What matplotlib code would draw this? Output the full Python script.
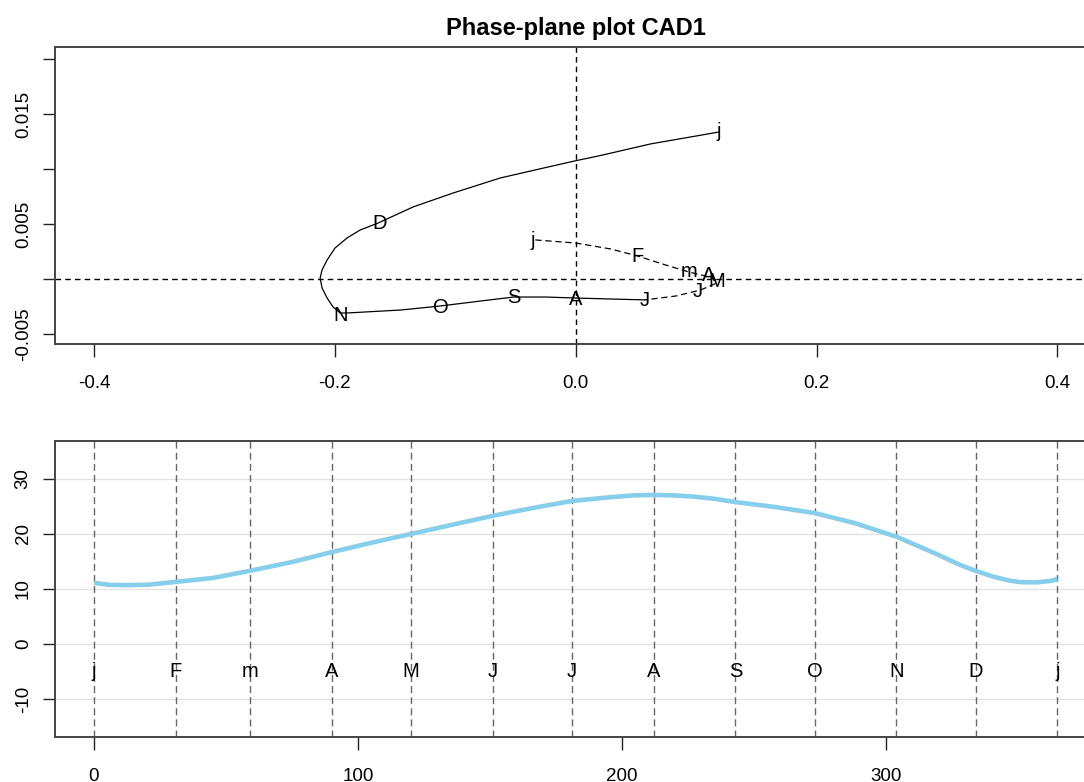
import matplotlib
matplotlib.use("Agg")
import matplotlib.pyplot as plt

plt.rcParams["font.family"] = ["Liberation Sans", "DejaVu Sans"]

# month markers
month_labels = ["j", "F", "m", "A", "M", "J", "J", "A", "S", "O", "N", "D", "j"]
month_days = [0, 31, 59, 90, 120, 151, 181, 212, 243, 273, 304, 334, 365]

# phase plane: velocity vs acceleration, Jan -> Jul part (dashed) then Jul -> Jan (solid)
phase_dv_first = [-0.0335, 0.0, 0.029, 0.0515, 0.0747, 0.0938, 0.1079, 0.117,
                  0.1154, 0.1037, 0.083, 0.0573]
phase_d2v_first = [0.00355, 0.00327, 0.00273, 0.00209, 0.00127, 0.00064, 0.00027,
                   -0.00009, -0.00045, -0.0010, -0.00155, -0.0019]
phase_dv_second = [0.0573, 0.029, 0.0, -0.0249, -0.0515, -0.0788, -0.112, -0.1452,
                   -0.1898, -0.1955, -0.2014, -0.2064, -0.2106, -0.2122, -0.2106,
                   -0.2064, -0.1998, -0.1898, -0.179, -0.164, -0.135, -0.1017,
                   -0.0627, -0.029, 0.0, 0.020, 0.0622, 0.1037, 0.1187]
phase_d2v_second = [-0.0019, -0.00182, -0.00173, -0.00164, -0.00164, -0.0020, -0.00245,
                    -0.00282, -0.00309, -0.00309, -0.00255, -0.00173, -0.00082,
                    0.00009, 0.00082, 0.00173, 0.00282, 0.00373, 0.00445, 0.00509,
                    0.00655, 0.00782, 0.00918, 0.01003, 0.01075, 0.01121, 0.01228,
                    0.01307, 0.01336]
month_dv = [-0.036, 0.0515, 0.094, 0.110, 0.117, 0.101, 0.057, 0.0, -0.051, -0.112,
            -0.195, -0.163, 0.119]
month_d2v = [0.0035, 0.0020, 0.0007, 0.0003, -0.0002, -0.0011, -0.0020, -0.0019,
             -0.0017, -0.0026, -0.0033, 0.0050, 0.0134]

# temperature curve
temp_days = [0, 6, 13, 21, 31, 45, 59, 75, 90, 105, 120, 135, 151, 166, 181, 196, 204,
             212, 220, 227, 235, 243, 258, 273, 288, 304, 319, 328, 334, 341, 347,
             351, 357, 362, 365]
temp_vals = [11.1, 10.75, 10.7, 10.8, 11.3, 12.0, 13.3, 14.9, 16.7, 18.4, 20.0, 21.6,
             23.3, 24.7, 26.0, 26.7, 27.0, 27.1, 27.0, 26.8, 26.4, 25.8, 24.9, 23.8,
             22.0, 19.5, 16.4, 14.4, 13.3, 12.2, 11.5, 11.25, 11.2, 11.45, 11.8]
label_level = -5

top_xticks = [-0.4, -0.2, 0.0, 0.2, 0.4]
top_yticks = [-0.005, 0.0, 0.005, 0.01, 0.015, 0.02]
top_ylabels = ["-0.005", "", "0.005", "", "0.015", ""]
bot_xticks = [0, 100, 200, 300]
bot_yticks = [-10, 0, 10, 20, 30]

W, H = 1084, 782
fig = plt.figure(figsize=(W / 100, H / 100), dpi=100)
frame_col = "#444444"


def style(ax):
    for s in ax.spines.values():
        s.set_color(frame_col)
        s.set_linewidth(1.4)
    ax.tick_params(direction="out", length=9, width=1, color="#222222",
                   labelsize=13.5, pad=13.5)
    ax.tick_params(axis="y", pad=8)


# top panel
ax1 = fig.add_axes([55.4 / W, (H - 344) / H, 1040.6 / W, 297 / H])
ax1.plot(phase_dv_first, phase_d2v_first, color="black", lw=0.9, ls=(0, (5, 3)))
ax1.plot(phase_dv_second, phase_d2v_second, color="black", lw=0.9)
ax1.axhline(0, color="black", lw=1.0, ls=(0, (4, 3)))
ax1.axvline(0, color="black", lw=1.0, ls=(0, (4, 3)))
for lab, x, y in zip(month_labels, month_dv, month_d2v):
    ax1.text(x, y, lab, ha="center", va="center", fontsize=14.5)
ax1.set_xlim(-0.432, 0.432)
ax1.set_ylim(-0.00591, 0.02109)
ax1.set_xticks(top_xticks)
ax1.set_xticklabels(["-0.4", "-0.2", "0.0", "0.2", "0.4"])
ax1.set_yticks(top_yticks)
ax1.set_yticklabels(top_ylabels, rotation=90, va="center")
ax1.set_title("Phase-plane plot CAD1", fontsize=17, fontweight="bold", pad=9)
style(ax1)

# bottom panel
ax2 = fig.add_axes([55.4 / W, (H - 737) / H, 1040.6 / W, 296 / H])
for y in bot_yticks:
    ax2.axhline(y, color="#e2e2e2", lw=1.0, zorder=0)
for d in month_days:
    ax2.axvline(d, color="#666666", lw=1.0, ls=(0, (5, 3)), zorder=1)
ax2.plot(temp_days, temp_vals, color="skyblue", lw=3.3, zorder=3,
         solid_capstyle="butt", solid_joinstyle="round")
for lab, d in zip(month_labels, month_days):
    ax2.text(d, label_level, lab, ha="center", va="center", fontsize=14.5, zorder=4)
ax2.set_xlim(-14.6, 379.6)
ax2.set_ylim(-16.9, 36.9)
ax2.set_xticks(bot_xticks)
ax2.set_yticks(bot_yticks)
ax2.set_yticklabels([str(v) for v in bot_yticks], rotation=90, va="center")
style(ax2)

fig.savefig("out.png", dpi=100)
